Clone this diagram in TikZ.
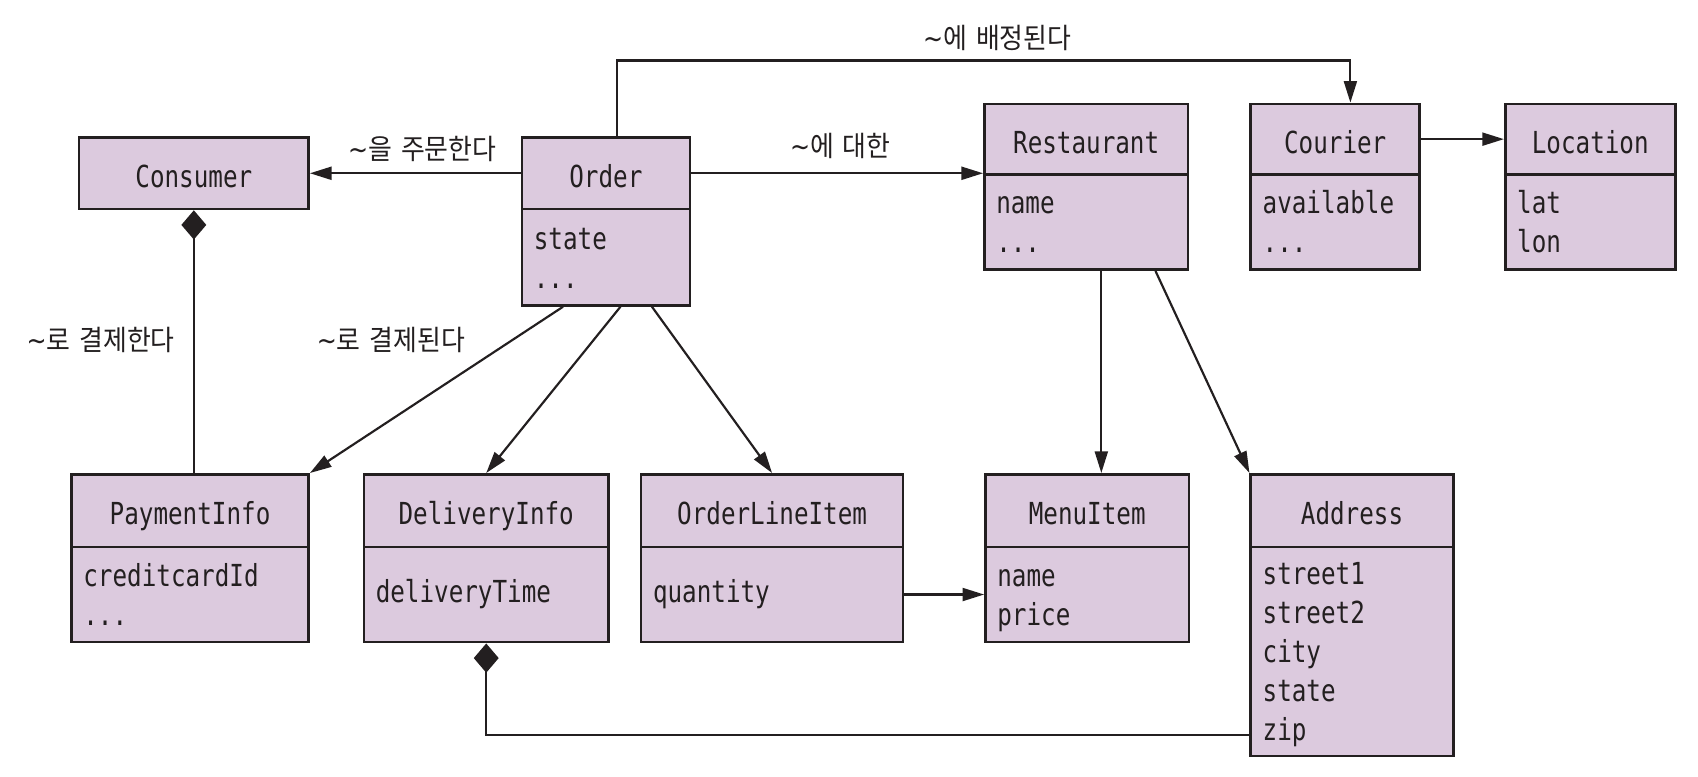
\documentclass[tikz,border=0pt]{standalone}
\usepackage{fontspec}
\newfontfamily\monof[FakeStretch=0.8]{DejaVu Sans Mono}
\newfontfamily\kof[FakeStretch=0.92]{Noto Sans CJK KR}
\newfontfamily\symf[FakeStretch=0.85]{DejaVu Sans}
\newcommand{\wave}{{\symf ∼}}
\newcommand{\topst}{\rule{0pt}{28pt}}
\newcommand{\botst}{\rule[-7pt]{0pt}{7pt}}
\usetikzlibrary{arrows.meta}
\definecolor{lilac}{HTML}{DCCADE}
\definecolor{ink}{HTML}{231F20}
\begin{document}
\begin{tikzpicture}[x=1pt,y=-1pt,
  box/.style={draw=ink, fill=lilac, line width=2.4pt, inner sep=0pt,
    font=\monof\fontsize{28}{36}\selectfont, text=ink},
  cls/.style 2 args={box, minimum width=#1pt, minimum height=#2pt,
    text height=26pt, text depth=0pt},
  attr/.style 2 args={box, minimum height=#2pt, text width=#1pt-22pt,
    inner xsep=11pt, align=left},
  arr/.style={draw=ink, line width=2pt, -{Triangle[length=20pt,width=12pt]}},
  diam/.style={draw=ink, line width=2pt, {Diamond[length=27pt,width=23pt]}-},
  lbl/.style={font=\kof\fontsize{26}{30}\selectfont, text=ink, inner sep=0pt}]
\useasboundingbox (0,0) rectangle (1568,717);

% classes
\node[cls={212}{66}] (consumer) at (179,160) {Consumer};

\node[cls={155}{66}] (order) at (559.5,160) {Order};
\node[attr={155}{89}] (orderA) at (559.5,237.5) {\topst state\\...\botst};

\node[cls={188}{65}] (restaurant) at (1003,128.5) {Restaurant};
\node[attr={188}{88}] (restaurantA) at (1003,205) {\topst name\\...\botst};

\node[cls={156}{65}] (courier) at (1233,128.5) {Courier};
\node[attr={156}{88}] (courierA) at (1233,205) {\topst available\\...\botst};

\node[cls={157}{65}] (location) at (1468.5,128.5) {Location};
\node[attr={157}{88}] (locationA) at (1468.5,205) {\topst lat\\lon\botst};

\node[cls={219}{67}] (payment) at (175.5,471.5) {PaymentInfo};
\node[attr={219}{88}] (paymentA) at (175.5,549) {\topst creditcardId\\...\botst};

\node[cls={226}{67}] (delivery) at (449,471.5) {DeliveryInfo};
\node[attr={226}{88}] (deliveryA) at (449,549) {deliveryTime};

\node[cls={242}{67}] (orderline) at (713,471.5) {OrderLineItem};
\node[attr={242}{88}] (orderlineA) at (713,549) {quantity};

\node[cls={188}{67}] (menuitem) at (1004,471.5) {MenuItem};
\node[attr={188}{88}] (menuitemA) at (1004,549) {\topst name\\price\botst};

\node[cls={187}{67}] (address) at (1248.5,471.5) {Address};
\node[attr={187}{193}] (addressA) at (1248.5,601.5) {\topst street1\\street2\\city\\state\\zip\botst};

% labels
\node[lbl] (l1) at (390,138) {\wave 을\hspace{3pt} 주문한다};
\node[lbl] (l2) at (776,135) {\wave 에\hspace{3pt} 대한};
\node[lbl] (l3) at (921,35) {\wave 에\hspace{3pt} 배정된다};
\node[lbl] (l4) at (93,314) {\wave 로\hspace{3pt} 결제한다};
\node[lbl] (l5) at (361,314) {\wave 로\hspace{3pt} 결제된다};

% connectors
\draw[arr] (order.west) -- (consumer.east);
\draw[arr] (order.east) -- (order.east -| restaurant.west);
\draw[arr] ([xshift=10.5pt]order.north) -- ++(0,-70) -| ([xshift=14pt]courier.north);
\draw[arr] (courier.east) -- (location.west);
\draw[diam] (consumer.south) -- (consumer.south |- payment.north);
\draw[arr] ([xshift=-39.5pt]orderA.south) -- (payment.north east);
\draw[arr] ([xshift=13.5pt]orderA.south) -- (delivery.north);
\draw[arr] ([xshift=42.5pt]orderA.south) -- (orderline.north);
\draw[arr] ([xshift=14pt]restaurantA.south) -- ([xshift=13pt]menuitem.north);
\draw[arr] ([xshift=64pt]restaurantA.south) -- (address.north west);
\draw[arr] (orderlineA.east) -- (menuitemA.west);
\draw[diam] (deliveryA.south) |- ([yshift=-77.5pt]addressA.west);
\end{tikzpicture}
\end{document}
